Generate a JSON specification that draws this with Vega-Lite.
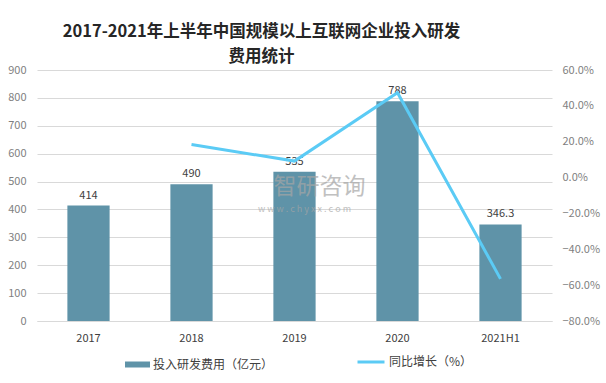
{
  "$schema": "https://vega.github.io/schema/vega-lite/v6.json",
  "autosize": {"type": "none"},
  "width": 515,
  "height": 251,
  "padding": {"left": 37, "top": 70, "right": 54, "bottom": 62},
  "background": "white",
  "config": {
    "view": {"stroke": null},
    "font": "Noto Sans CJK SC",
    "axis": {"labelFont": "Noto Sans CJK SC", "labelFontSize": 11},
    "legend": {"labelFont": "Noto Sans CJK SC"}
  },
  "title": {
    "text": ["2017-2021年上半年中国规模以上互联网企业投入研发", "费用统计"],
    "fontSize": 16.5,
    "fontWeight": "bold",
    "color": "#262626",
    "anchor": "middle",
    "dx": -33,
    "dy": 3,
    "offset": 2,
    "lineHeight": 25,
    "font": "Noto Sans CJK SC"
  },
  "data": {
    "values": [
      {"year": "2017", "rd": 414, "label": "414", "growth": null},
      {"year": "2018", "rd": 490, "label": "490", "growth": 18.4},
      {"year": "2019", "rd": 535, "label": "535", "growth": 9.2},
      {"year": "2020", "rd": 788, "label": "788", "growth": 47.3},
      {"year": "2021H1", "rd": 346.3, "label": "346.3", "growth": -56.5}
    ]
  },
  "encoding": {
    "x": {
      "field": "year",
      "type": "ordinal",
      "sort": null,
      "scale": {"paddingInner": 0.59, "paddingOuter": 0.295},
      "axis": {
        "title": null,
        "labelAngle": 0,
        "ticks": false,
        "domain": true,
        "domainColor": "#D9D9D9",
        "labelColor": "#404040",
        "labelPadding": 11
      }
    }
  },
  "layer": [
    {
      "mark": {"type": "bar"},
      "encoding": {
        "y": {
          "field": "rd",
          "type": "quantitative",
          "scale": {"domain": [0, 900], "nice": false},
          "axis": {
            "title": null,
            "values": [0, 100, 200, 300, 400, 500, 600, 700, 800, 900],
            "ticks": false,
            "domain": false,
            "grid": true,
            "gridColor": "#D9D9D9",
            "labelColor": "#7F7F7F",
            "labelPadding": 11
          }
        },
        "fill": {
          "datum": "投入研发费用（亿元）",
          "scale": {"range": ["#5F93A8"]},
          "legend": {
            "title": null,
            "orient": "none",
            "legendX": 88,
            "legendY": 282,
            "padding": 0,
            "symbolType": "M-1,-0.24H1V0.24H-1Z",
            "symbolSize": 625,
            "symbolStrokeWidth": 0,
            "labelOffset": 3,
            "labelFontSize": 12,
            "labelColor": "#404040"
          }
        }
      }
    },
    {
      "mark": {"type": "text", "dy": -10, "fontSize": 11, "color": "#404040"},
      "encoding": {
        "y": {"field": "rd", "type": "quantitative", "scale": {"domain": [0, 900], "nice": false}, "axis": null},
        "text": {"field": "label"}
      }
    },
    {
      "transform": [{"filter": "datum.growth != null"}],
      "mark": {"type": "line", "strokeWidth": 3},
      "encoding": {
        "y": {
          "field": "growth",
          "type": "quantitative",
          "scale": {"domain": [-80, 60], "nice": false},
          "axis": {
            "title": null,
            "orient": "right",
            "values": [-80, -60, -40, -20, 0, 20, 40, 60],
            "labelExpr": "format(datum.value, '.1f') + '%'",
            "ticks": false,
            "domain": false,
            "grid": false,
            "labelColor": "#7F7F7F",
            "labelPadding": 10
          }
        },
        "stroke": {
          "datum": "同比增长（%）",
          "scale": {"range": ["#5BCBF5"]},
          "legend": {
            "title": null,
            "orient": "none",
            "legendX": 319,
            "legendY": 277,
            "padding": 0,
            "symbolType": "stroke",
            "symbolSize": 729,
            "symbolStrokeWidth": 3,
            "labelOffset": 3,
            "labelFontSize": 12,
            "labelColor": "#404040"
          }
        }
      }
    },
    {
      "data": {"values": [{"year": "2019", "v": 479, "t": "智研咨询"}]},
      "mark": {"type": "text", "fontSize": 23, "color": "#A6A6A6", "opacity": 0.7, "dx": 25, "baseline": "middle"},
      "encoding": {
        "y": {"field": "v", "type": "quantitative", "scale": {"domain": [0, 900], "nice": false}, "axis": null},
        "text": {"field": "t"}
      }
    },
    {
      "data": {"values": [{"year": "2019", "v": 402, "t": "w w w . c h y x x . c o m"}]},
      "mark": {"type": "text", "fontSize": 9, "color": "#A6A6A6", "opacity": 0.7, "dx": 10, "baseline": "middle"},
      "encoding": {
        "y": {"field": "v", "type": "quantitative", "scale": {"domain": [0, 900], "nice": false}, "axis": null},
        "text": {"field": "t"}
      }
    }
  ],
  "resolve": {"scale": {"y": "independent"}}
}
